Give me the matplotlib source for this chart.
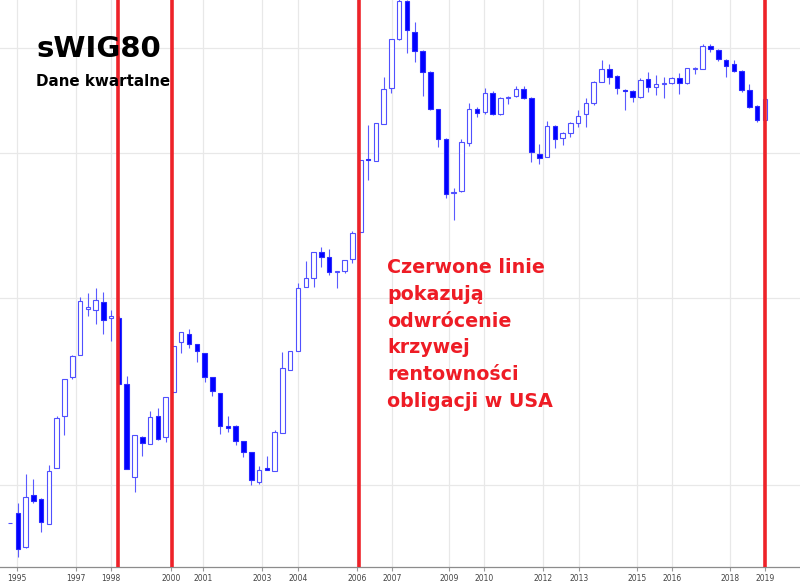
import matplotlib
matplotlib.use("Agg")
import matplotlib.pyplot as plt
from matplotlib.patches import Rectangle

# kwartalne swiece sWIG80 (1994 Q4 - 2019 Q1)
opens = [1540, 1740, 1060, 2100, 2020, 1520, 2640, 3680, 4460, 4900,
         5820, 5800, 5960, 5640, 5640, 4320, 2460, 3260, 3120, 3680,
         3260, 4160, 5160, 5320, 5120, 4940, 4460, 4140, 3480, 3480,
         3180, 2960, 2360, 2640, 2580, 3340, 4600, 4980, 6260, 6440,
         6960, 6860, 6560, 6580, 6820, 7360, 8820, 8780, 9520, 10240,
         11220, 11980, 11360, 10980, 10560, 9820, 9220, 8140, 8180, 9140,
         9820, 9760, 10140, 9720, 10050, 10080, 10220, 10040, 8920, 8860,
         9480, 9240, 9340, 9540, 9720, 9940, 10360, 10620, 10480, 10200,
         10180, 10060, 10420, 10260, 10320, 10340, 10440, 10340, 10620, 10620,
         11080, 11000, 10800, 10720, 10580, 10200, 9880, 9600]
highs = [1545, 1940, 2520, 2420, 2040, 2700, 3680, 4420, 4900, 6060,
         6140, 6240, 6160, 5800, 5680, 4480, 3300, 3280, 3780, 3840,
         4060, 5080, 5360, 5420, 5120, 4940, 4460, 4140, 3680, 3500,
         3180, 2960, 2680, 2880, 3400, 4960, 4980, 6340, 6780, 6960,
         7060, 7020, 6580, 6800, 7380, 8800, 9500, 9540, 10460, 11220,
         12040, 12000, 11560, 11000, 10580, 9820, 9240, 8240, 9220, 9940,
         9860, 10240, 10180, 10060, 10080, 10280, 10280, 10060, 9120, 9580,
         9500, 9360, 9560, 9800, 10040, 10380, 10800, 10720, 10500, 10220,
         10200, 10440, 10560, 10500, 10460, 10460, 10540, 10640, 10660, 11120,
         11120, 11020, 10820, 10800, 10600, 10320, 9900, 10020]
lows = [1535, 860, 1040, 1940, 1360, 1520, 2640, 3300, 4420, 4900,
        5680, 5520, 5320, 5180, 4320, 2620, 2160, 2880, 3120, 3200,
        3160, 4160, 4940, 5040, 4760, 4360, 4080, 3320, 3360, 3100,
        2860, 2300, 2320, 2600, 2580, 3340, 4600, 4980, 6260, 6260,
        6660, 6500, 6240, 6540, 6740, 7360, 8400, 8780, 9520, 10140,
        11200, 10940, 10760, 10080, 9800, 9060, 8040, 7600, 8160, 9080,
        9660, 9720, 9700, 9700, 9920, 10060, 10020, 8760, 8720, 8860,
        9040, 9100, 9260, 9460, 9460, 9900, 10360, 10320, 10120, 9800,
        9960, 10040, 10160, 10100, 10040, 10320, 10120, 10320, 10520, 10620,
        10960, 10780, 10460, 10560, 10160, 9840, 9560, 9600]
closes = [1545, 1020, 2060, 1980, 1560, 2580, 3640, 4420, 4880, 5980,
          5860, 6000, 5600, 5680, 4320, 2620, 3300, 3140, 3660, 3220,
          4060, 5080, 5360, 5120, 4980, 4460, 4180, 3480, 3440, 3180,
          2960, 2400, 2600, 2600, 3360, 4640, 4980, 6240, 6440, 6960,
          6860, 6560, 6580, 6800, 7340, 8800, 8800, 9540, 10220, 11220,
          11980, 11400, 10980, 10560, 9820, 9220, 8120, 8160, 9160, 9820,
          9740, 10140, 9720, 10040, 10070, 10220, 10040, 8960, 8840, 9480,
          9220, 9340, 9540, 9680, 9940, 10360, 10620, 10460, 10240, 10180,
          10060, 10400, 10260, 10320, 10340, 10440, 10340, 10640, 10640, 11080,
          11020, 10820, 10680, 10580, 10200, 9860, 9600, 10020]

tick_labels = ["1995", "1997", "1998", "2000", "2001", "2003", "2004", "2006", "2007",
               "2009", "2010", "2012", "2013", "2015", "2016", "2018", "2019"]
tick_pos = [0.9, 8.5, 13.0, 20.7, 24.8, 32.4, 37.0, 44.6, 49.1,
            56.4, 60.9, 68.5, 73.1, 80.6, 85.1, 92.5, 97.0]
hgrid = [11040, 8940, 6040, 2300]
inversions = [13.9, 20.8, 44.9, 97.0]  # odwrocenie krzywej w USA

note = ["Czerwone linie", "pokazują", "odwrócenie", "krzywej",
        "rentowności", "obligacji w USA"]

fig = plt.figure(figsize=(8, 5.86), dpi=100)
ax = fig.add_axes([0, 19 / 586, 1, 567 / 586])

w = 0.58
for i in range(len(opens)):
    o, h, l, c = opens[i], highs[i], lows[i], closes[i]
    ax.plot([i, i], [l, h], color="#5a5aff", lw=0.8, zorder=2, solid_capstyle="butt")
    bottom = min(o, c)
    height = abs(c - o)
    if c >= o:
        rect = Rectangle((i - w / 2, bottom), w, height, facecolor="white",
                         edgecolor="#5050ff", lw=0.8, zorder=3)
    else:
        rect = Rectangle((i - w / 2, bottom), w, height, facecolor="#0000ff",
                         edgecolor="#2a2aff", lw=0.8, zorder=3)
    ax.add_patch(rect)

for x in inversions:
    ax.axvline(x, color="#ee2229", lw=2.6, zorder=5)

ax.set_xlim(-1.285, 101.5)
ax.set_ylim(660, 12000)

ax.set_xticks(tick_pos)
ax.set_xticklabels(tick_labels)
ax.set_yticks(hgrid)
ax.set_yticklabels([])
ax.tick_params(axis="x", length=3, color="#999999", labelsize=5.5,
               labelcolor="#444444", pad=2)
ax.tick_params(axis="y", length=0)
ax.grid(True, color="#e8e8e8", lw=0.9, zorder=0)
ax.set_axisbelow(True)
for s in ["left", "right", "top"]:
    ax.spines[s].set_visible(False)
ax.spines["bottom"].set_color("#8c8c8c")
ax.spines["bottom"].set_linewidth(0.9)

fig.text(36 / 800, 1 - 57 / 586, "sWIG80", fontsize=21, fontweight="bold",
         color="black", va="baseline", ha="left", family="DejaVu Sans")
fig.text(36 / 800, 1 - 85.5 / 586, "Dane kwartalne", fontsize=10.9,
         fontweight="bold", color="black", va="baseline", ha="left",
         family="DejaVu Sans")

for k, line in enumerate(note):
    fig.text(387 / 800, 1 - (273.3 + 26.68 * k) / 586, line, fontsize=13.7,
             fontweight="bold", color="#ee1c25", va="baseline", ha="left",
             family="DejaVu Sans")

fig.savefig("out.png", dpi=100)
